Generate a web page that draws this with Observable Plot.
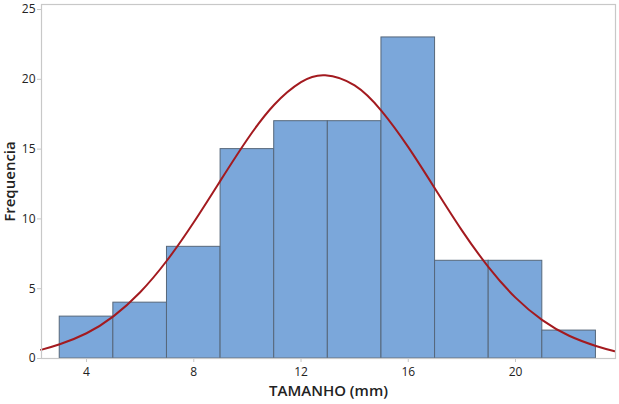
<!DOCTYPE html>
<html>
<head>
<meta charset="utf-8">
<script src="https://cdn.jsdelivr.net/npm/d3@7"></script>
<script src="https://cdn.jsdelivr.net/npm/@observablehq/plot@0.6"></script>
<style>
  html, body { margin: 0; padding: 0; background: #fff; }
  #chart { width: 619px; height: 404px; overflow: hidden; }
</style>
</head>
<body>
<div id="chart"></div>
<script>
// Histogram bins (TAMANHO, mm) and frequencies
const binStart = [3, 5, 7, 9, 11, 13, 15, 17, 19, 21];
const binEnd   = [5, 7, 9, 11, 13, 15, 17, 19, 21, 23];
const freq     = [3, 4, 8, 15, 17, 17, 23, 7, 7, 2];

// Fitted normal curve
const curveX = [2.3, 3, 4, 5, 6, 7, 8, 9, 10, 11, 12, 12.9, 14, 15, 16, 17, 18, 19, 20, 21, 22, 23, 23.7];
const curveY = [0.62, 1.02, 1.81, 3.02, 4.75, 7.02, 9.76, 12.76, 15.71, 18.18, 19.8, 20.29, 19.56, 17.74, 15.14, 12.16, 9.18, 6.53, 4.36, 2.75, 1.63, 0.9, 0.52];

const xTicks = [4, 8, 12, 16, 20];
const yTicks = [0, 5, 10, 15, 20, 25];

const bars = binStart.map((s, i) => ({x1: s, x2: binEnd[i], y: freq[i]}));
const curve = curveX.map((x, i) => ({x, y: curveY[i]}));

const font = "'Open Sans', 'Noto Sans', sans-serif";

const chart = Plot.plot({
  width: 619,
  height: 404,
  marginLeft: 41,
  marginRight: 4,
  marginTop: 4,
  marginBottom: 46,
  style: {fontFamily: font, fontSize: "12px", color: "#222", background: "#fff"},
  x: {domain: [2.32, 23.73]},
  y: {domain: [0, 25.36]},
  marks: [
    Plot.rectY(bars, {x1: "x1", x2: "x2", y: "y", fill: "#7ba7da", stroke: "#56677a", strokeWidth: 1}),
    Plot.line(curve, {x: "x", y: "y", stroke: "#a31a1f", strokeWidth: 2, curve: "natural"}),
    Plot.frame({stroke: "#c8c8c8", strokeWidth: 1.2}),
    Plot.axisX({ticks: xTicks, tickSize: 4, tickPadding: 5, stroke: "#c8c8c8",
      label: "TAMANHO (mm)", labelAnchor: "center", labelArrow: "none", labelOffset: 37}),
    Plot.axisY({ticks: yTicks, tickSize: 4, tickPadding: 2, stroke: "#c8c8c8",
      label: "Frequencia", labelAnchor: "center", labelArrow: "none", labelOffset: 37})
  ]
});

// style axis labels (semibold, larger)
chart.querySelectorAll("g[aria-label='x-axis label'] text, g[aria-label='y-axis label'] text").forEach(t => {
  t.setAttribute("font-size", "15");
  t.setAttribute("font-weight", "600");
});
document.getElementById("chart").appendChild(chart);
</script>
</body>
</html>
